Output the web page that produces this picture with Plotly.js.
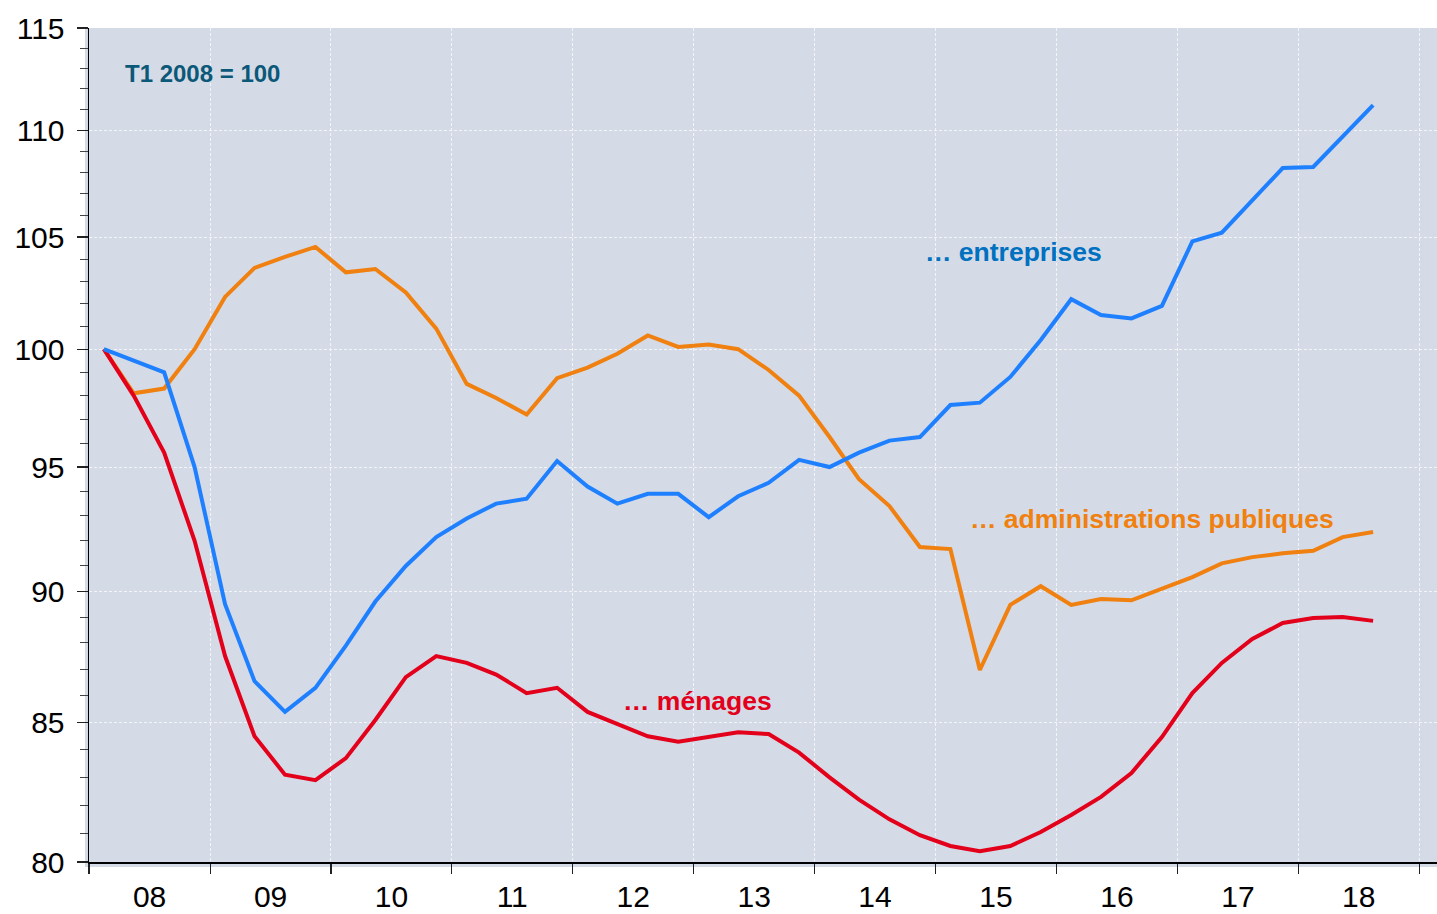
<!DOCTYPE html>
<html>
<head>
<meta charset="utf-8">
<script src="https://cdn.plot.ly/plotly-3.0.1.min.js"></script>
<style>
html,body{margin:0;padding:0;background:#fff;}
#chart{width:1437px;height:914px;}
</style>
</head>
<body>
<div id="chart"></div>
<script>
const quarters = [
"2008-02-15","2008-05-15","2008-08-15","2008-11-15",
"2009-02-15","2009-05-15","2009-08-15","2009-11-15",
"2010-02-15","2010-05-15","2010-08-15","2010-11-15",
"2011-02-15","2011-05-15","2011-08-15","2011-11-15",
"2012-02-15","2012-05-15","2012-08-15","2012-11-15",
"2013-02-15","2013-05-15","2013-08-15","2013-11-15",
"2014-02-15","2014-05-15","2014-08-15","2014-11-15",
"2015-02-15","2015-05-15","2015-08-15","2015-11-15",
"2016-02-15","2016-05-15","2016-08-15","2016-11-15",
"2017-02-15","2017-05-15","2017-08-15","2017-11-15",
"2018-02-15","2018-05-15","2018-08-15"];

const entreprises = [100, 99.5, 99.0, 95.0, 89.5, 86.55, 85.4, 86.3, 87.9, 89.6, 91.0, 92.15, 92.9, 93.5, 93.7, 95.25, 94.2, 93.5, 93.9, 93.9, 92.95, 93.8, 94.35, 95.3, 95.0, 95.6, 96.1, 96.25, 97.6, 97.7, 98.8, 100.4, 102.2, 101.5, 101.35, 101.9, 104.8, 105.2, 106.7, 108.2, 108.25, 109.7, 111.2];

const administrations = [100, 98.1, 98.3, 100.0, 102.3, 103.6, 104.1, 104.55, 103.4, 103.55, 102.5, 100.9, 98.5, 97.9, 97.2, 98.75, 99.2, 99.8, 100.6, 100.1, 100.2, 100.0, 99.1, 98.0, 96.25, 94.5, 93.4, 91.75, 91.67, 86.97, 89.47, 90.2, 89.47, 89.7, 89.65, 90.1, 90.56, 91.1, 91.35, 91.5, 91.6, 92.15, 92.35];

const menages = [100, 98.0, 95.6, 92.0, 87.5, 84.5, 83.1, 82.9, 83.7, 85.1, 86.7, 87.5, 87.24, 86.8, 86.1, 86.3, 85.4, 84.95, 84.5, 84.3, 84.47, 84.65, 84.58, 83.9, 83.0, 82.2, 81.5, 80.94, 80.56, 80.38, 80.56, 81.05, 81.65, 82.3, 83.16, 84.47, 86.1, 87.24, 88.15, 88.77, 88.96, 89.0, 88.85];

const yTicks = [80, 85, 90, 95, 100, 105, 110, 115];
const yMinorTicks = [81,82,83,84,86,87,88,89,91,92,93,94,96,97,98,99,101,102,103,104,106,107,108,109,111,112,113,114];

const labels = {
  base: "T1 2008 = 100",
  entreprises: "… entreprises",
  administrations: "… administrations publiques",
  menages: "… ménages"
};

const colBlue = "#1f80ff", colOrange = "#f0800f", colRed = "#e3001b";
const bg = "#d4dae6";
const font = "Liberation Sans, Arial, sans-serif";

const traces = [
  {x: quarters, y: administrations, type: "scatter", mode: "lines", line: {color: colOrange, width: 4}, name: "administrations"},
  {x: quarters, y: menages, type: "scatter", mode: "lines", line: {color: colRed, width: 4}, name: "ménages"},
  {x: quarters, y: entreprises, type: "scatter", mode: "lines", line: {color: colBlue, width: 4}, name: "entreprises"}
];

const W = 1348, H = 834;
const gridCol = "rgba(255,255,255,0.7)";
const layout = {
  width: 1437, height: 914,
  margin: {l: 89, r: 0, t: 28, b: 52},
  paper_bgcolor: "#ffffff",
  plot_bgcolor: bg,
  showlegend: false,
  font: {family: font, color: "#000"},
  xaxis: {
    type: "date",
    range: ["2008-01-01", "2019-02-24"],
    tick0: "2008-01-01",
    dtick: "M12",
    tickformat: "%y",
    ticklabelmode: "period",
    ticks: "outside",
    ticklen: 10,
    tickwidth: 1.2,
    tickcolor: "#222",
    ticklabelstandoff: -3,
    tickfont: {size: 30, color: "#000", family: font},
    showline: true,
    linecolor: "#000",
    linewidth: 1.5,
    showgrid: true,
    gridcolor: gridCol,
    griddash: "3px,2px",
    gridwidth: 1,
    zeroline: false
  },
  yaxis: {
    type: "log",
    range: [Math.log10(80), Math.log10(115)],
    tickmode: "array",
    tickvals: yTicks,
    ticktext: yTicks.map(String),
    ticks: "outside",
    ticklen: 11,
    tickwidth: 1.2,
    tickcolor: "#222",
    ticklabelstandoff: 6,
    tickfont: {size: 30, color: "#000", family: font},
    showline: true,
    linecolor: "#000",
    linewidth: 1.5,
    showgrid: true,
    gridcolor: gridCol,
    griddash: "3px,2px",
    gridwidth: 1,
    zeroline: false,
    minor: {
      tickmode: "array",
      tickvals: yMinorTicks,
      ticks: "outside",
      ticklen: 8,
      tickwidth: 1,
      tickcolor: "#444",
      showgrid: false
    }
  },
  shapes: [
    {type: "rect", xref: "paper", yref: "paper", x0: -4/W, x1: 1, y0: -5/H, y1: 1, fillcolor: bg, line: {width: 0}, layer: "below"}
  ],
  annotations: [
    {xref: "paper", yref: "paper", x: (123-89)/W, y: (862-73)/H, xanchor: "left", yanchor: "middle", showarrow: false,
     text: "<b>" + labels.base + "</b>", font: {size: 24, color: "#0b5878", family: font}},
    {xref: "paper", yref: "paper", x: (923-89)/W, y: (862-252)/H, xanchor: "left", yanchor: "middle", showarrow: false,
     text: "<b>" + labels.entreprises + "</b>", font: {size: 26.5, color: "#0070c0", family: font}},
    {xref: "paper", yref: "paper", x: (968-89)/W, y: (862-519)/H, xanchor: "left", yanchor: "middle", showarrow: false,
     text: "<b>" + labels.administrations + "</b>", font: {size: 26.5, color: colOrange, family: font}},
    {xref: "paper", yref: "paper", x: (621-89)/W, y: (862-701)/H, xanchor: "left", yanchor: "middle", showarrow: false,
     text: "<b>" + labels.menages + "</b>", font: {size: 26.5, color: colRed, family: font}}
  ]
};

Plotly.newPlot("chart", traces, layout, {displayModeBar: false, staticPlot: true});
</script>
</body>
</html>
